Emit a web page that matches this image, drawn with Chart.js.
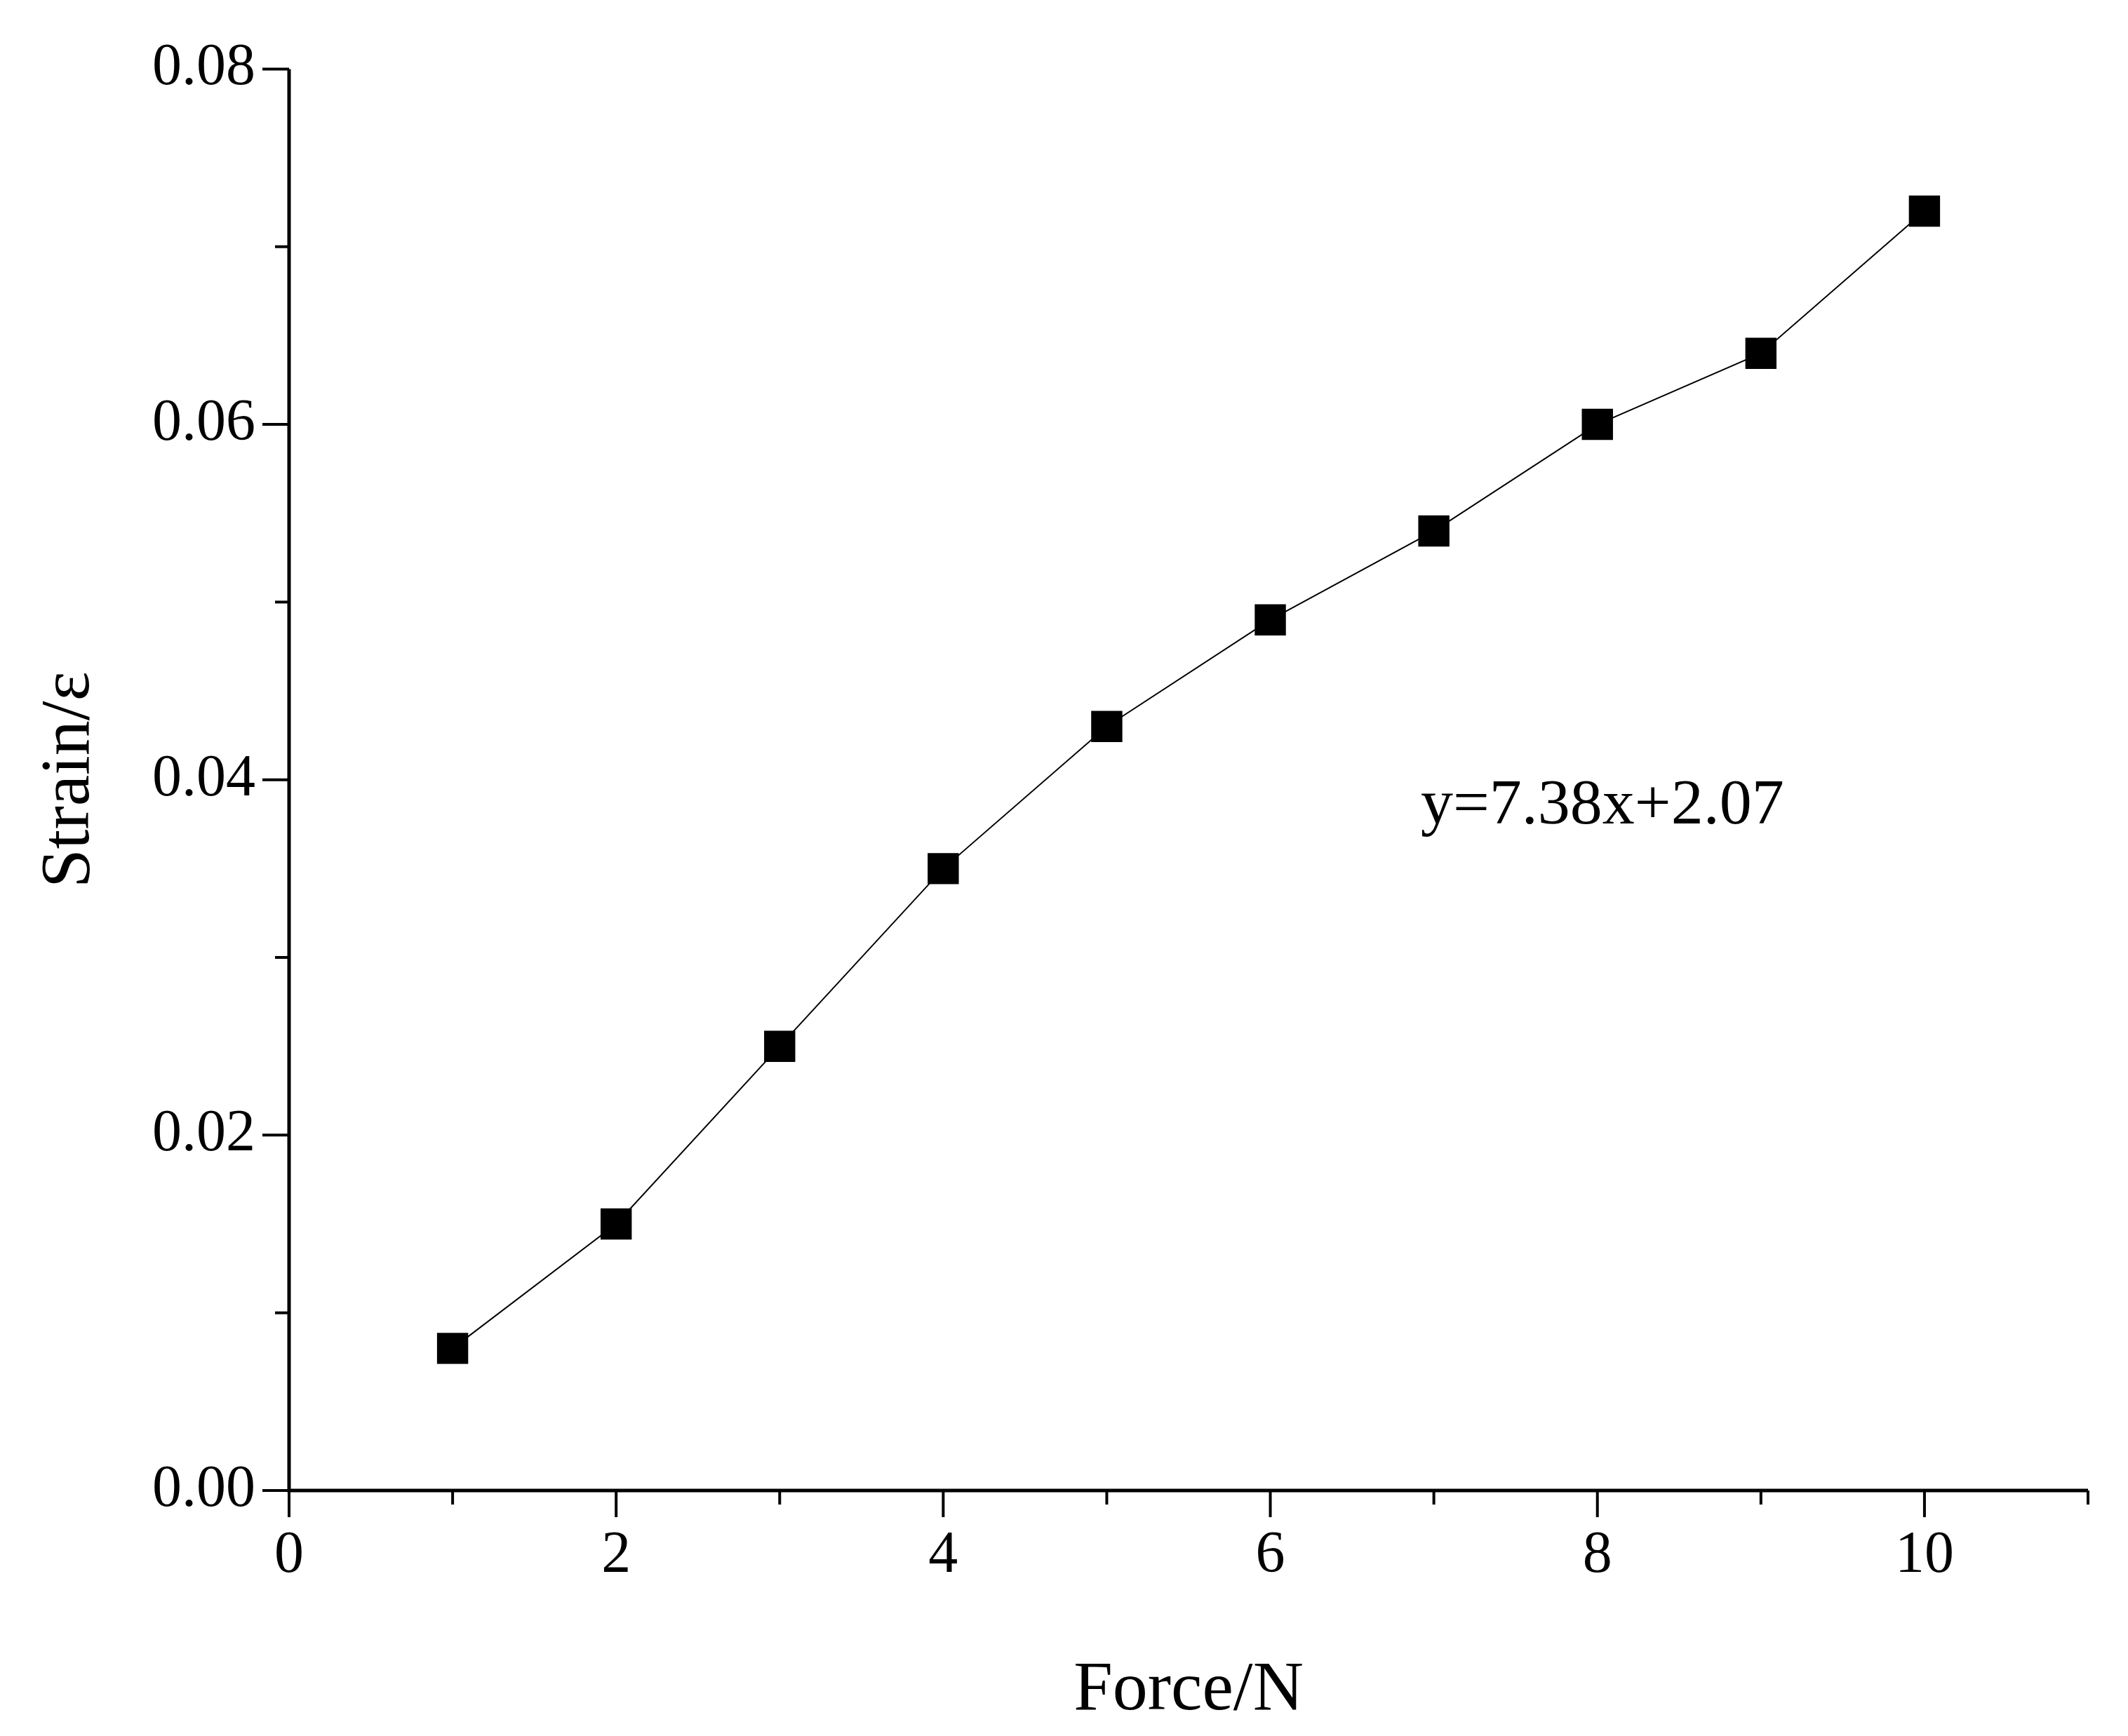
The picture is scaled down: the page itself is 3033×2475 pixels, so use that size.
<!DOCTYPE html>
<html><head><meta charset="utf-8">
<script src="https://cdn.jsdelivr.net/npm/chart.js@4"></script>
<style>html,body{margin:0;padding:0;background:#fff}#wrap{width:3033px;height:2475px}</style>
</head><body><div id="wrap"><canvas id="c"></canvas></div>
<script>
const forces = [1, 2, 3, 4, 5, 6, 7, 8, 9, 10];
const strains = [0.008, 0.015, 0.025, 0.035, 0.043, 0.049, 0.054, 0.060, 0.064, 0.072];
const xTicks = [0, 2, 4, 6, 8, 10];
const yTicks = [0, 0.02, 0.04, 0.06, 0.08];
const fitText = 'y=7.38x+2.07';
const font = '"Liberation Serif", "DejaVu Serif", serif';

// outward ticks, minor ones shorter
const tickPlugin = {
    id: 'ticks',
    afterDraw(c) {
        const ctx = c.ctx, x = c.scales.x, y = c.scales.y, a = c.chartArea;
        ctx.save();
        ctx.strokeStyle = '#000';
        ctx.lineWidth = 5;
        ctx.beginPath();
        ctx.moveTo(a.left, a.top); ctx.lineTo(a.left, a.bottom); ctx.lineTo(a.right, a.bottom);
        ctx.stroke();
        ctx.lineWidth = 4;
        for (let v = 0; v <= 11; v++) {
            const px = x.getPixelForValue(v), len = v % 2 === 0 ? 38 : 20;
            ctx.beginPath(); ctx.moveTo(px, a.bottom); ctx.lineTo(px, a.bottom + len); ctx.stroke();
        }
        for (let i = 0; i <= 8; i++) {
            const py = y.getPixelForValue(i * 0.01), len = i % 2 === 0 ? 38 : 20;
            ctx.beginPath(); ctx.moveTo(a.left, py); ctx.lineTo(a.left - len, py); ctx.stroke();
        }
        ctx.fillStyle = '#000';
        ctx.font = '92px ' + font;
        ctx.textBaseline = 'middle';
        ctx.fillText(fitText, x.getPixelForValue(6.92), y.getPixelForValue(0.0385));
        ctx.restore();
    }
};

new Chart(document.getElementById('c'), {
    type: 'line',
    data: {
        datasets: [{
            data: forces.map((f, i) => ({ x: f, y: strains[i] })),
            borderColor: '#000',
            borderWidth: 2,
            backgroundColor: '#000',
            pointStyle: 'rect',
            pointRadius: 30,
            tension: 0
        }]
    },
    options: {
        responsive: true,
        maintainAspectRatio: false,
        animation: false,
        layout: { padding: { top: 22, right: 57 } },
        plugins: { legend: { display: false }, tooltip: { enabled: false } },
        scales: {
            x: {
                type: 'linear', min: 0, max: 11,
                afterBuildTicks: s => { s.ticks = xTicks.map(v => ({ value: v })); },
                afterFit: s => { s.height = 350; },
                grid: { display: false, drawTicks: false },
                border: { display: false },
                ticks: { color: '#000', font: { family: font, size: 84 }, padding: 44 },
                title: { display: true, text: 'Force/N', color: '#000', font: { family: font, size: 100 }, padding: { top: 8 } }
            },
            y: {
                type: 'linear', min: 0, max: 0.08,
                afterBuildTicks: s => { s.ticks = yTicks.map(v => ({ value: v })); },
                afterFit: s => { s.width = 412; },
                grid: { display: false, drawTicks: false },
                border: { display: false },
                ticks: { color: '#000', font: { family: font, size: 84 }, padding: 48,
                    callback: v => v.toFixed(2) },
                title: { display: true, text: 'Strain/ε', color: '#000', font: { family: font, size: 100 }, padding: { top: 40, bottom: 20 } }
            }
        }
    },
    plugins: [tickPlugin]
});
</script></body></html>
